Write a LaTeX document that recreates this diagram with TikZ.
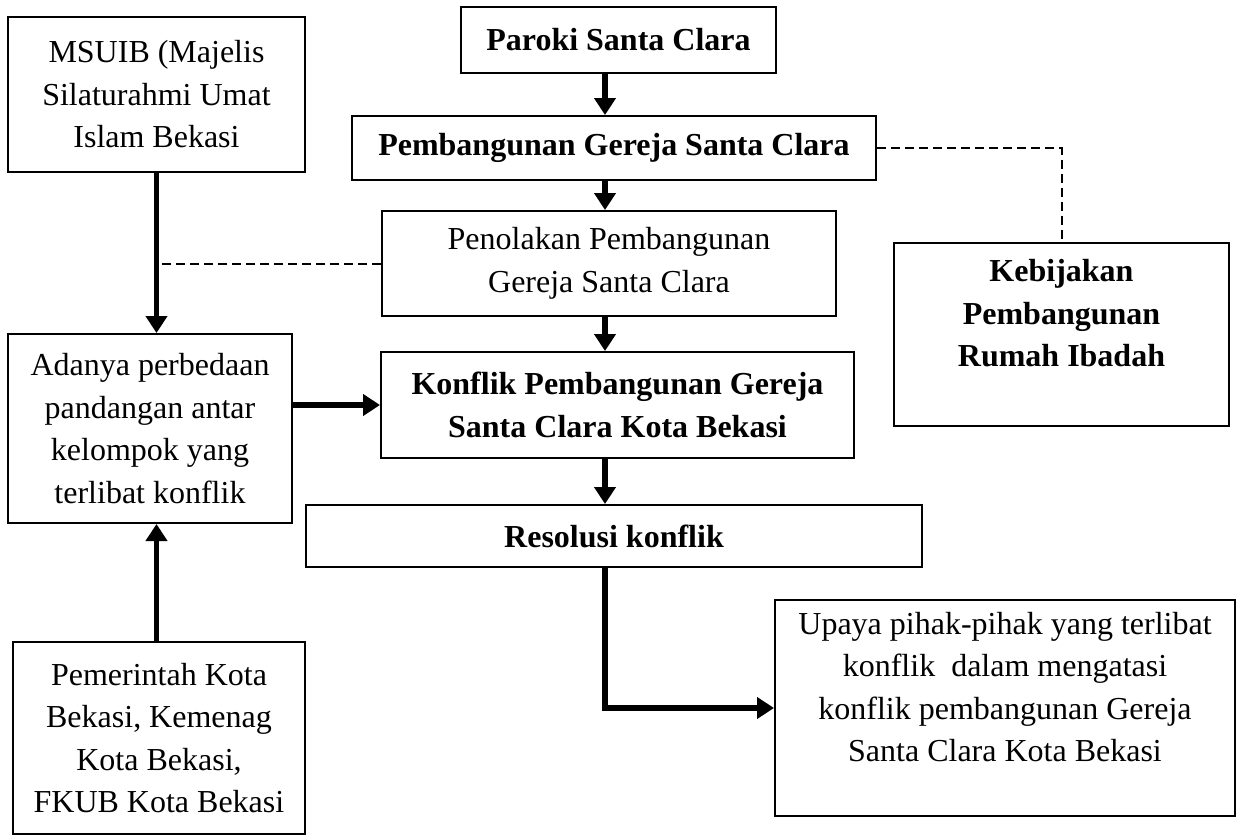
\documentclass[tikz,border=0pt]{standalone}
\usepackage{fontspec}
\setmainfont{Liberation Serif}
\usetikzlibrary{arrows.meta}

\begin{document}
\begin{tikzpicture}[x=0.5pt, y=-0.5pt]
        \useasboundingbox[fill=white] (0,0) rectangle (1238,836);
        \coordinate (spine) at (605,0);

        \begin{scope}[every node/.style={draw, line width=1pt, inner sep=0pt, align=center, font=\fontsize{16}{21.25}\selectfont},
                      bold/.style={font=\fontsize{16}{21.25}\selectfont\bfseries}]
                \node[minimum width=148.5pt, minimum height=77.5pt] (msuib) at (156.5,94.5) {MSUIB (Majelis\\Silaturahmi Umat\\Islam Bekasi};
                \node[bold, minimum width=157.5pt, minimum height=33pt] (paroki) at (618.5,40) {Paroki Santa Clara};
                \node[bold, minimum width=262pt, minimum height=32pt] (pembangunan) at (614,148) {Pembangunan Gereja Santa Clara};
                \node[minimum width=227pt, minimum height=52.5pt] (penolakan) at (609,263.5) {Penolakan Pembangunan\\Gereja Santa Clara};
                \node[bold, minimum width=167.5pt, minimum height=91.5pt] (kebijakan) at (1061.5,334.5) {Kebijakan\\Pembangunan\\Rumah Ibadah\\~};
                \node[minimum width=142pt, minimum height=94.5pt] (adanya) at (150,428.5) {Adanya perbedaan\\pandangan antar\\kelompok yang\\terlibat konflik};
                \node[bold, minimum width=236.5pt, minimum height=53pt] (konflik) at (617.5,405) {Konflik Pembangunan Gereja\\Santa Clara Kota Bekasi};
                \node[bold, minimum width=308pt, minimum height=31pt] (resolusi) at (614,536) {Resolusi konflik};
                \node[minimum width=146pt, minimum height=96pt] (pemerintah) at (159,738) {Pemerintah Kota\\Bekasi, Kemenag\\Kota Bekasi,\\FKUB Kota Bekasi};
                \node[minimum width=230pt, minimum height=108pt] (upaya) at (1005,708) {Upaya pihak-pihak yang terlibat\\konflik~ dalam mengatasi\\konflik pembangunan Gereja\\Santa Clara Kota Bekasi\\~};
        \end{scope}

        \begin{scope}[every path/.style={line width=2.8pt, -{Triangle[length=8.5pt,width=10.5pt]}}]
                \draw (paroki.south -| spine) -- (pembangunan.north -| spine);
                \draw (pembangunan.south -| spine) -- (penolakan.north -| spine);
                \draw (penolakan.south -| spine) -- (konflik.north -| spine);
                \draw (konflik.south -| spine) -- (resolusi.north -| spine);
                \draw (resolusi.south -| spine) |- (upaya.west);
                \draw (msuib.south) -- (msuib.south |- adanya.north);
                \draw (pemerintah.north -| msuib.south) -- (adanya.south -| msuib.south);
                \draw (adanya.east |- konflik.west) -- (konflik.west);
        \end{scope}

        \begin{scope}[every path/.style={line width=1pt, dash pattern=on 4.5pt off 2.5pt}]
                \draw (penolakan.west) -- (penolakan.west -| msuib.south);
                \draw (pembangunan.east) -| (kebijakan.north);
        \end{scope}
\end{tikzpicture}
\end{document}
